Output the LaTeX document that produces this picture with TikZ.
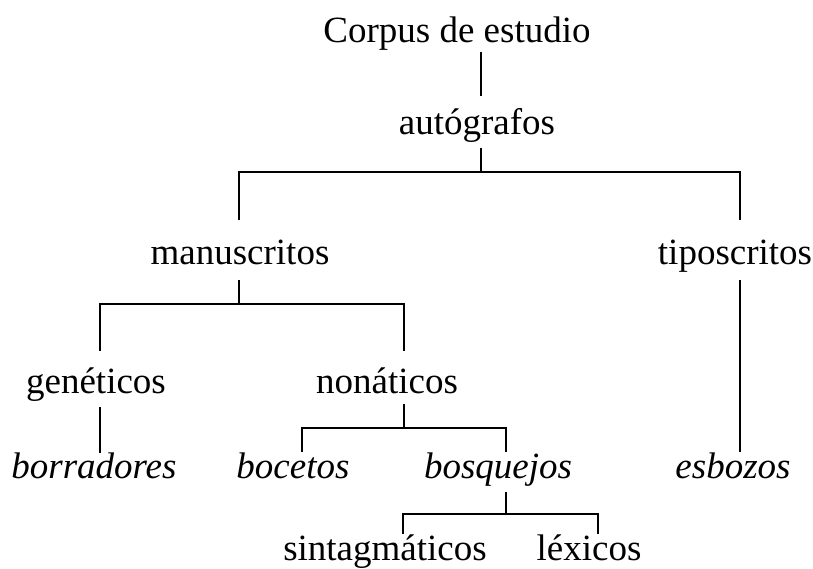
\documentclass[tikz,border=0pt]{standalone}
\usepackage{fontspec}
\setmainfont{Liberation Serif}
\tikzset{
  term/.style={anchor=base,inner sep=0pt,font=\fontsize{37}{40}\selectfont},
  kind/.style={term,font=\fontsize{37}{40}\selectfont\itshape},
  branch/.style={line width=1.5pt}
}
\begin{document}
\begin{tikzpicture}[x=1pt,y=-1pt]
      \useasboundingbox (0,0) rectangle (813,569);
      % terms
      \node[term] (corpus) at (457,43) {Corpus de estudio};
      \node[term] (autografos) at (477,135) {autógrafos};
      \node[term] (manuscritos) at (240,265) {manuscritos};
      \node[term] (tiposcritos) at (735,265) {tiposcritos};
      \node[term] (geneticos) at (96,393) {genéticos};
      \node[term] (nonaticos) at (387,393) {nonáticos};
      \node[kind] (borradores) at (94,478) {borradores};
      \node[kind] (bocetos) at (293,478) {bocetos};
      \node[kind] (bosquejos) at (498,478) {bosquejos};
      \node[kind] (esbozos) at (733,478) {esbozos};
      \node[term] (sintagmaticos) at (385,560) {sintagmáticos};
      \node[term] (lexicos) at (589,560) {léxicos};
      % ends of the branches
      \coordinate (corpus-pie) at (481,52);
      \coordinate (autografos-top) at (481,96);
      \coordinate (autografos-pie) at (481,148);
      \coordinate (manuscritos-top) at (239,220);
      \coordinate (tiposcritos-top) at (740,220);
      \coordinate (manuscritos-pie) at (239,280);
      \coordinate (tiposcritos-pie) at (740,280);
      \coordinate (geneticos-top) at (100,351);
      \coordinate (nonaticos-top) at (404,351);
      \coordinate (geneticos-pie) at (100,407);
      \coordinate (nonaticos-pie) at (404,404);
      \coordinate (borradores-top) at (100,453);
      \coordinate (bocetos-top) at (302,452);
      \coordinate (bosquejos-top) at (506,452);
      \coordinate (esbozos-top) at (740,452);
      \coordinate (bosquejos-pie) at (506,492);
      \coordinate (sintagmaticos-top) at (403,534);
      \coordinate (lexicos-top) at (598,534);
      % branches
      \draw[branch] (corpus-pie) -- (autografos-top);
      \draw[branch] (autografos-pie) -- ++(0,24);
      \draw[branch] (manuscritos-top) -- ++(0,-48) -| (tiposcritos-top);
      \draw[branch] (manuscritos-pie) -- ++(0,24);
      \draw[branch] (geneticos-top) -- ++(0,-47) -| (nonaticos-top);
      \draw[branch] (tiposcritos-pie) -- (esbozos-top);
      \draw[branch] (geneticos-pie) -- (borradores-top);
      \draw[branch] (nonaticos-pie) -- ++(0,24);
      \draw[branch] (bocetos-top) -- ++(0,-24) -| (bosquejos-top);
      \draw[branch] (bosquejos-pie) -- ++(0,22);
      \draw[branch] (sintagmaticos-top) -- ++(0,-20) -| (lexicos-top);
\end{tikzpicture}
\end{document}
